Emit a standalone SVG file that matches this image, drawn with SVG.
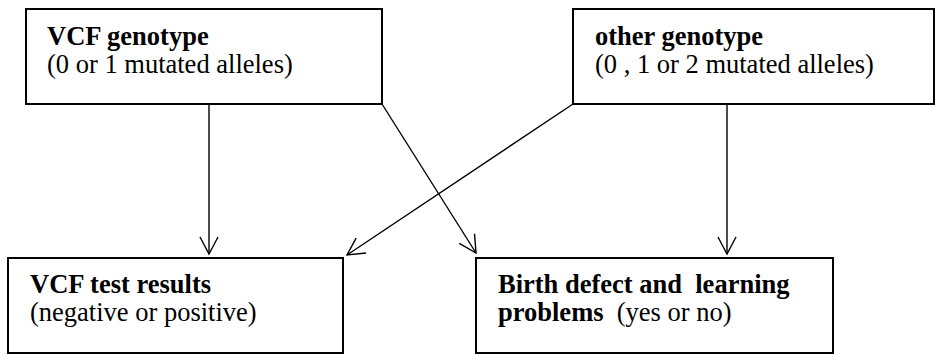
<svg xmlns="http://www.w3.org/2000/svg" width="935" height="354" viewBox="0 0 935 354">
<defs>
<style>
.box{fill:#fff;stroke:#000;stroke-width:2}
.t{font-family:"Liberation Serif","Times New Roman",serif;font-size:26.5px;fill:#000;white-space:pre}
.b{font-weight:bold}
.c{stroke:#000;stroke-width:1.4;fill:none}
</style>
<marker id="ah" markerUnits="userSpaceOnUse" markerWidth="40" markerHeight="40" viewBox="-20 -20 40 40" refX="0" refY="0" orient="auto">
<path d="M-17,-9 L0,0 L-17,9" fill="none" stroke="#000" stroke-width="1.4"/>
</marker>
</defs>
<rect width="935" height="354" fill="#fff"/>
<g id="node-vcf-genotype">
<rect class="box" x="26" y="9" width="356" height="95"/>
<text class="t b" x="47" y="45">VCF genotype</text>
<text class="t" x="47" y="73">(0 or 1 mutated alleles)</text>
</g>
<g id="node-other-genotype">
<rect class="box" x="573" y="9" width="361" height="95"/>
<text class="t b" x="595" y="45">other genotype</text>
<text class="t" x="595" y="73" xml:space="preserve">(0 , 1 or 2 mutated alleles)</text>
</g>
<g id="node-vcf-test">
<rect class="box" x="8" y="258" width="335" height="95"/>
<text class="t b" x="30" y="293">VCF test results</text>
<text class="t" x="30" y="321">(negative or positive)</text>
</g>
<g id="node-birth-defect">
<rect class="box" x="476" y="258" width="357" height="95"/>
<text class="t b" x="498" y="293" xml:space="preserve">Birth defect and  learning</text>
<text class="t" x="498" y="321" xml:space="preserve"><tspan class="b">problems</tspan>  (yes or no)</text>
</g>
<g id="connectors">
<line class="c" x1="209" y1="104" x2="209" y2="254" marker-end="url(#ah)"/>
<line class="c" x1="382" y1="104" x2="476" y2="253" marker-end="url(#ah)"/>
<line class="c" x1="573" y1="104" x2="347" y2="255" marker-end="url(#ah)"/>
<line class="c" x1="727" y1="104" x2="727" y2="254" marker-end="url(#ah)"/>
</g>
</svg>
